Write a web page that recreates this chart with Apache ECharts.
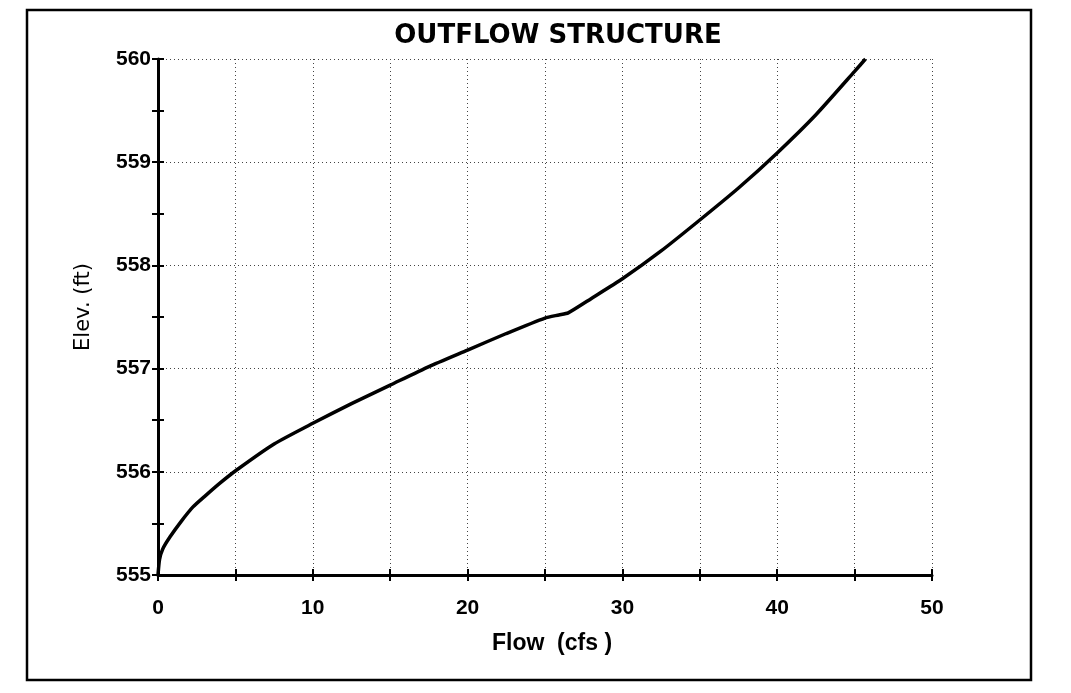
<!DOCTYPE html>
<html>
<head>
<meta charset="utf-8">
<script src="https://cdn.jsdelivr.net/npm/echarts@6/dist/echarts.min.js"></script>
<style>
html,body{margin:0;padding:0;background:#fff;}
#chart{width:1071px;height:693px;}
</style>
</head>
<body>
<div id="chart"></div>
<script>
// Data
var flowCfs = [0, 0.1, 0.3, 0.78, 1.5, 2.26, 3.0, 4.0, 5.1, 7.5, 10, 12.5, 15, 17.5, 20, 22.5, 25, 25.9, 26.5, 28, 30, 32.5, 35, 37.5, 40, 42.5, 45, 45.7];
var elevFt  = [555.0, 555.15, 555.25, 555.37, 555.52, 555.66, 555.76, 555.89, 556.02, 556.27, 556.47, 556.66, 556.84, 557.02, 557.18, 557.34, 557.49, 557.52, 557.54, 557.68, 557.87, 558.14, 558.44, 558.75, 559.09, 559.46, 559.88, 560.0];
var xTickLabels = ['0', '10', '20', '30', '40', '50'];
var yTickLabels = ['555', '556', '557', '558', '559', '560'];

var points = flowCfs.map(function (x, i) { return [x, elevFt[i]]; });
var font = '"Liberation Sans", Arial, sans-serif';
var wide = '"DejaVu Sans", sans-serif';

var chart = echarts.init(document.getElementById('chart'));
chart.setOption({
  animation: false,
  backgroundColor: '#fff',
  title: {
    text: 'OUTFLOW STRUCTURE',
    left: 553, top: 18, textAlign: 'center',
    textStyle: { fontFamily: wide, fontWeight: 'bold', fontSize: 26, color: '#000' }
  },
  grid: { left: 158, right: 139, top: 59, bottom: 118 },
  xAxis: [{
    type: 'value', min: 0, max: 50, interval: 5,
    name: 'Flow  (cfs )', nameLocation: 'middle', nameGap: 57,
    nameTextStyle: { fontFamily: font, fontWeight: 'bold', fontSize: 23, color: '#000', padding: [0, 0, 0, 14] },
    axisLine: { show: true, lineStyle: { color: '#000', width: 3 } },
    axisTick: { show: true, inside: false, length: 6, lineStyle: { color: '#000', width: 2 } },
    axisLabel: {
      margin: 23, fontFamily: font, fontWeight: 'bold', fontSize: 21, color: '#000',
      formatter: function (v) { var i = xTickLabels.indexOf(String(v)); return i >= 0 ? xTickLabels[i] : ''; }
    },
    splitLine: { show: true, lineStyle: { color: '#444', type: [1, 3], width: 1 } }
  }, {
    type: 'value', min: 0, max: 50, interval: 5, position: 'bottom', gridIndex: 0,
    axisLine: { show: false }, axisLabel: { show: false }, splitLine: { show: false },
    axisTick: { show: true, inside: true, length: 6, lineStyle: { color: '#000', width: 2 } }
  }],
  yAxis: [{
    type: 'value', min: 555, max: 560, interval: 0.5,
    name: 'Elev. (ft)', nameLocation: 'middle', nameGap: 64, nameRotate: 90,
    nameTextStyle: { fontFamily: wide, fontSize: 21, color: '#000', padding: [0, 0, 0, 20] },
    axisLine: { show: true, lineStyle: { color: '#000', width: 3 } },
    axisTick: { show: true, inside: false, length: 6, lineStyle: { color: '#000', width: 2 } },
    axisLabel: {
      margin: 7, fontFamily: font, fontWeight: 'bold', fontSize: 21, color: '#000',
      formatter: function (v) { var i = yTickLabels.indexOf(String(v)); return i >= 0 ? yTickLabels[i] : ''; }
    },
    splitLine: {
      show: true,
      lineStyle: { width: 1, type: [1, 3], color: ['#444', 'rgba(0,0,0,0)'] }
    }
  }, {
    type: 'value', min: 555, max: 560, interval: 0.5, position: 'left',
    axisLine: { show: false }, axisLabel: { show: false }, splitLine: { show: false },
    axisTick: { show: true, inside: true, length: 6, lineStyle: { color: '#000', width: 2 } }
  }],
  graphic: [{
    type: 'rect', shape: { x: 27, y: 10, width: 1004, height: 670 },
    style: { fill: 'none', stroke: '#000', lineWidth: 2.5 }, silent: true
  }],
  series: [{
    type: 'line', data: points, showSymbol: false,
    smooth: 0.2,
    lineStyle: { color: '#000', width: 3.5 },
    clip: true, z: 5
  }]
});
</script>
</body>
</html>
